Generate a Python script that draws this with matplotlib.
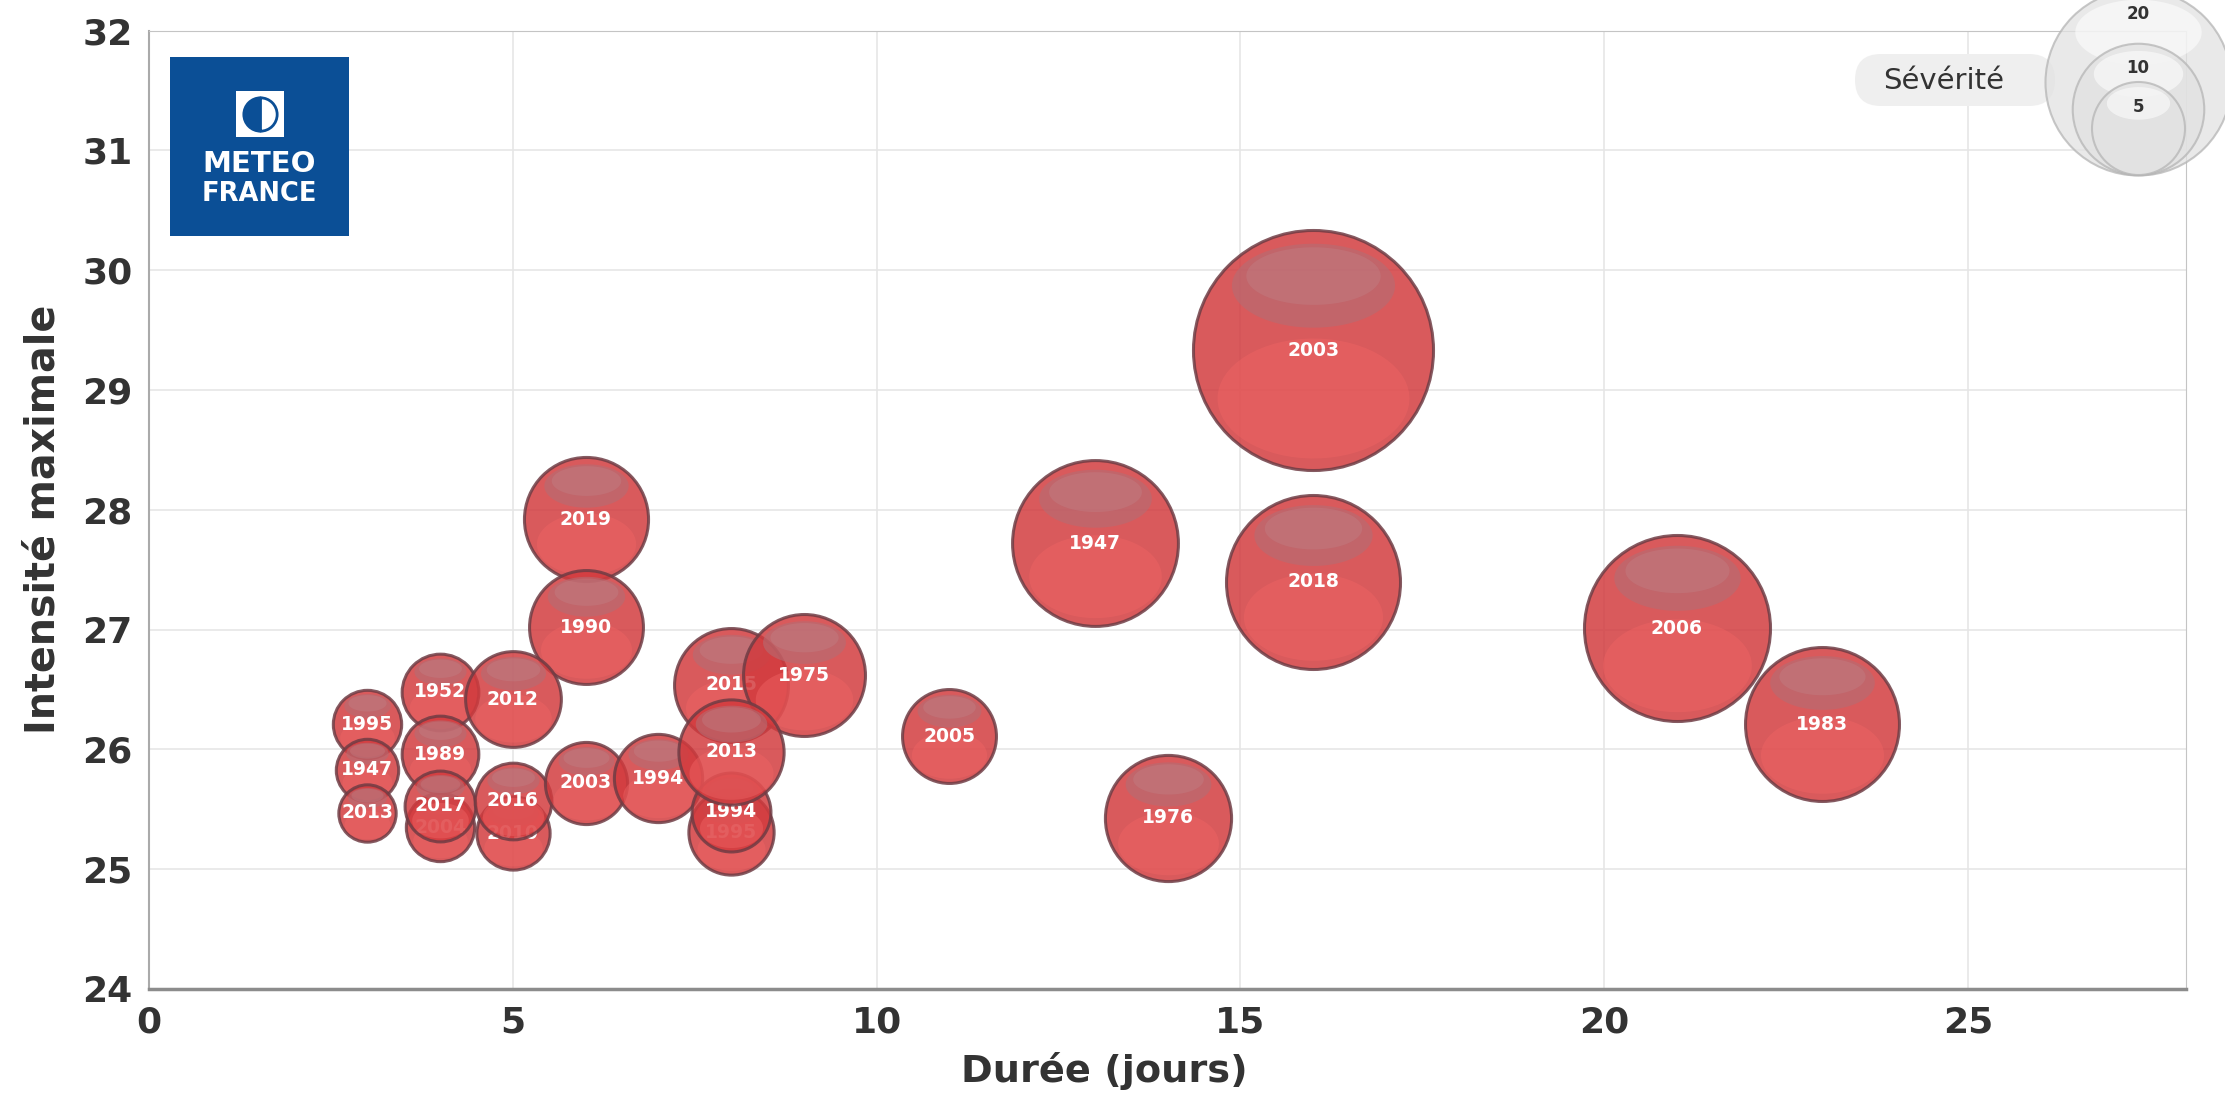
import numpy as np
import matplotlib.pyplot as plt
from matplotlib.path import Path
from matplotlib.markers import MarkerStyle
from matplotlib.patches import FancyBboxPatch, Rectangle


# données : une bulle par épisode (durée, intensité maximale, sévérité)
annees = [2003, 2006, 2018, 1947, 1983, 1976, 2005, 2019, 1990,
          1995, 1947, 2013, 1952, 1989, 2004, 2017, 2012, 2010, 2016,
          2003, 1994, 1995, 1994, 2015, 1975, 2013]
duree = [16, 21, 16, 13, 23, 14, 11, 6, 6,
         3, 3, 3, 4, 4, 4, 4, 5, 5, 5,
         6, 7, 8, 8, 8, 9, 8]
intensite = [29.33, 27.01, 27.40, 27.72, 26.21, 25.43, 26.11, 27.92, 27.02,
             26.21, 25.83, 25.47, 26.48, 25.96, 25.35, 25.53, 26.42, 25.30, 25.57,
             25.72, 25.76, 25.31, 25.48, 26.54, 26.62, 25.98]
severite = [33.3, 20.0, 17.5, 15.9, 13.7, 9.2, 5.1, 8.9, 7.5,
            2.7, 2.25, 1.9, 3.4, 3.4, 2.7, 2.9, 5.3, 3.1, 3.4,
            3.9, 4.5, 4.2, 3.6, 7.5, 8.6, 6.4]

legende_valeurs = [20, 10, 5]
xticks = [0, 5, 10, 15, 20, 25]
yticks = [24, 25, 26, 27, 28, 29, 30, 31, 32]

AIRE = 897  # points^2 par unité de sévérité


def ellipse_marker(cy, rx, ry, ancre):
    # ellipse dans le repère du cercle unité, avec un point d'ancrage pour garder l'échelle
    t = np.linspace(0, 2 * np.pi, 64)
    pts = np.column_stack([rx * np.cos(t), cy + ry * np.sin(t)])
    verts = np.vstack([[0, ancre], pts])
    codes = [Path.MOVETO, Path.MOVETO] + [Path.LINETO] * (len(pts) - 2) + [Path.CLOSEPOLY]
    return MarkerStyle(Path(verts, codes))


reflet = ellipse_marker(0.54, 0.68, 0.35, -1)
reflet2 = ellipse_marker(0.62, 0.56, 0.24, -1)
lueur = ellipse_marker(-0.40, 0.80, 0.50, 1)

fig = plt.figure(figsize=(22.25, 10.94), dpi=100)
ax = fig.add_axes([0.067, 0.096, 0.9155, 0.876])

# bulles
for i in range(len(annees)):
    z = 3 + i * 5
    s = AIRE * severite[i]
    ax.scatter(duree[i], intensite[i], s=s, c='#d23a3d', alpha=0.84,
               edgecolors='#6e3c44', linewidths=2.2, zorder=z)
    ax.scatter(duree[i], intensite[i], s=s, marker=lueur, c='#f06464', alpha=0.45,
               linewidths=0, zorder=z + 1)
    ax.scatter(duree[i], intensite[i], s=s, marker=reflet, c='#b46d74', alpha=0.6,
               linewidths=0, zorder=z + 2)
    ax.scatter(duree[i], intensite[i], s=s, marker=reflet2, c='#c08a90', alpha=0.3,
               linewidths=0, zorder=z + 3)
    ax.text(duree[i], intensite[i], str(annees[i]), ha='center', va='center',
            color='white', fontsize=13.5, fontweight='bold', zorder=z + 4)

# axes
ax.set_xlim(0, 28)
ax.set_ylim(24, 32)
ax.set_xticks(xticks)
ax.set_yticks(yticks)
ax.grid(True, color='#e6e6e6', linewidth=1.2, zorder=0)
ax.set_axisbelow(True)
ax.tick_params(length=0, labelsize=26, labelcolor='#333333', pad=12)
for lab in ax.get_xticklabels() + ax.get_yticklabels():
    lab.set_fontweight('bold')
ax.spines['left'].set_color('#aaaaaa')
ax.spines['left'].set_linewidth(1.5)
ax.spines['bottom'].set_color('#8c8c8c')
ax.spines['bottom'].set_linewidth(2.5)
ax.spines['top'].set_color('#c4c4c4')
ax.spines['right'].set_color('#c4c4c4')

ax.set_xlabel('Durée (jours)', fontsize=27.5, fontweight='bold', color='#333333', va='center')
ax.xaxis.set_label_coords(0.469, -0.0856)
ax.set_ylabel('Intensité maximale', fontsize=28.5, fontweight='bold', color='#333333',
              va='center')
ax.yaxis.set_label_coords(-0.052, 0.49)

# calque en pixels pour logo et légende
ov = fig.add_axes([0, 0, 1, 1], zorder=10)
ov.set_xlim(0, 2225)
ov.set_ylim(1094, 0)
ov.axis('off')

# logo Météo-France
ov.add_patch(Rectangle((170, 57), 179, 179, fc='#0b4f96', ec='none'))
ov.add_patch(Rectangle((236, 91), 48, 46, fc='white', ec='none'))
ov.plot(260, 114, marker='o', ms=24, fillstyle='left', mfc='#0b4f96',
        mfcalt='white', mec='#0b4f96', mew=2)
ov.text(259, 164, 'METEO', ha='center', va='center', color='white',
        fontsize=21, fontweight='bold')
ov.text(259, 194, 'FRANCE', ha='center', va='center', color='white',
        fontsize=18.5, fontweight='bold')

# légende de sévérité
ov.add_patch(FancyBboxPatch((1855, 54), 200, 52, boxstyle='round,pad=0,rounding_size=26',
                            fc='#efefef', ec='none'))
ov.text(1944, 81, 'Sévérité', ha='center', va='center', color='#333333', fontsize=21)
for v in legende_valeurs:
    s = AIRE * v
    r = np.sqrt(s) / 2 * 100 / 72
    cy = 175 - r
    ov.scatter(2138, cy, s=s, c='#e2e2e2', alpha=0.75, edgecolors='#b5b5b5', linewidths=1.5)
    ov.scatter(2138, cy, s=s, marker=reflet, c='white', alpha=0.55, linewidths=0)
    ov.text(2138, cy - r + 25, str(v), ha='center', va='center', color='#333333',
            fontsize=12, fontweight='bold')

plt.savefig('out.png', dpi=100)
